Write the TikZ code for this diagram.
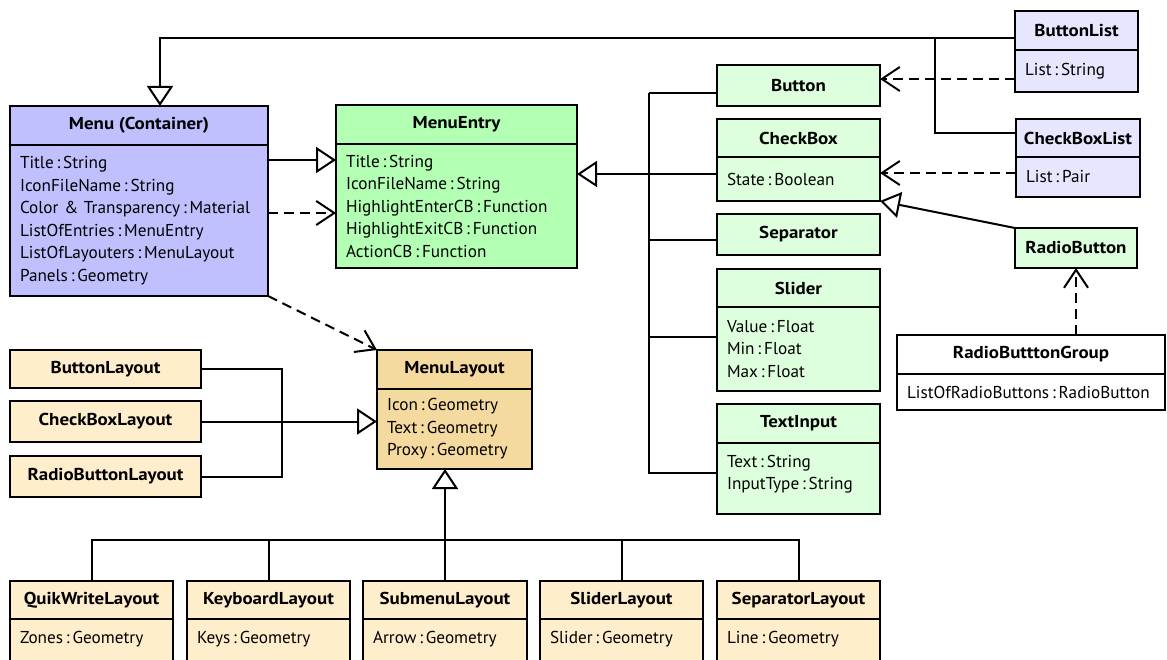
\documentclass[tikz,border=0pt]{standalone}
\usepackage{fontspec}
\setmainfont{PT Sans}[BoldFeatures={FakeStretch=1.1}]
\usetikzlibrary{arrows.meta}
\usetikzlibrary{positioning}

\definecolor{menublue}{RGB}{192,192,255}
\definecolor{listblue}{RGB}{230,230,255}
\definecolor{entrygreen}{RGB}{179,255,179}
\definecolor{widgetgreen}{RGB}{221,255,221}
\definecolor{layouttan}{RGB}{245,218,160}
\definecolor{layoutcream}{RGB}{255,238,204}

\newcommand{\umlfont}{\fontsize{17.2pt}{22.5pt}\selectfont}

\tikzset{
    classhead/.style={rectangle, draw=black, line width=2pt, outer sep=0pt, inner sep=0pt, anchor=north west, font=\umlfont\bfseries},
    classbody/.style={rectangle, draw=black, line width=2pt, outer sep=0pt, inner xsep=10pt, inner ysep=4pt, align=left, font=\umlfont},
    inherit/.style={line width=2pt, -{Triangle[open, length=20pt, width=26pt, fill=white]}},
    uses/.style={line width=2pt, dash pattern=on 10pt off 6pt, -{Straight Barb[length=18pt, width=24pt]}},
    link/.style={line width=2pt},
}

\begin{document}
\begin{tikzpicture}[x=1pt, y=-1pt]
    \fill[white] (0,0) rectangle (1167,660);
    \useasboundingbox (0,0) rectangle (1167,660);

    % menu and entries
    \node[classhead, fill=menublue, minimum width=258pt, minimum height=39pt] (menu) at (10,106) {Menu (Container)};
    \node[classbody, fill=menublue, text width=238pt, minimum height=151pt, below=0pt of menu] (menuattr) {Title\,:\,String\\IconFileName\,:\,String\\Color \& Transparency\,:\,Material\\ListOfEntries\,:\,MenuEntry\\ListOfLayouters\,:\,MenuLayout\\Panels\,:\,Geometry};
    \node[classhead, fill=entrygreen, minimum width=241pt, minimum height=39pt] (entry) at (336,105) {MenuEntry};
    \node[classbody, fill=entrygreen, text width=221pt, minimum height=124pt, below=0pt of entry] (entryattr) {Title\,:\,String\\IconFileName\,:\,String\\HighlightEnterCB\,:\,Function\\HighlightExitCB\,:\,Function\\ActionCB\,:\,Function};

    \node[classhead, fill=widgetgreen, minimum width=163pt, minimum height=41pt] (button) at (717,65) {Button};
    \node[classhead, fill=widgetgreen, minimum width=163pt, minimum height=38pt] (checkbox) at (717,119) {CheckBox};
    \node[classbody, fill=widgetgreen, text width=143pt, minimum height=44pt, below=0pt of checkbox] (checkboxattr) {State\,:\,Boolean};
    \node[classhead, fill=widgetgreen, minimum width=163pt, minimum height=41pt] (separator) at (717,214) {Separator};
    \node[classhead, fill=widgetgreen, minimum width=163pt, minimum height=38pt] (slider) at (717,269) {Slider};
    \node[classbody, fill=widgetgreen, text width=143pt, minimum height=84pt, below=0pt of slider] (sliderattr) {Value\,:\,Float\\Min\,:\,Float\\Max\,:\,Float};
    \node[classhead, fill=widgetgreen, minimum width=163pt, minimum height=39pt] (textinput) at (717,404) {TextInput};
    \node[classbody, fill=widgetgreen, text width=143pt, inner ysep=12pt, text depth=35pt, below=0pt of textinput] (textinputattr) {Text\,:\,String\\InputType\,:\,String};

    % lists and radio buttons
    \node[classhead, fill=listblue, minimum width=123pt, minimum height=39pt] (buttonlist) at (1015,11) {ButtonList};
    \node[classbody, fill=listblue, text width=103pt, minimum height=42pt, below=0pt of buttonlist] (buttonlistattr) {List\,:\,String};
    \node[classhead, fill=listblue, minimum width=124pt, minimum height=38pt] (checkboxlist) at (1016,119) {CheckBoxList};
    \node[classbody, fill=listblue, text width=104pt, minimum height=40pt, below=0pt of checkboxlist] (checkboxlistattr) {List\,:\,Pair};
    \node[classhead, fill=widgetgreen, minimum width=122pt, minimum height=40pt] (radiobutton) at (1015,228) {RadioButton};
    \node[classhead, fill=white, minimum width=268pt, minimum height=39pt] (radiogroup) at (897,335) {RadioButttonGroup};
    \node[classbody, fill=white, text width=248pt, minimum height=36pt, below=0pt of radiogroup] (radiogroupattr) {ListOfRadioButtons\,:\,RadioButton};

    % layouts
    \node[classhead, fill=layouttan, minimum width=155pt, minimum height=39pt] (menulayout) at (377,350) {MenuLayout};
    \node[classbody, fill=layouttan, text width=135pt, minimum height=80pt, below=0pt of menulayout] (menulayoutattr) {Icon\,:\,Geometry\\Text\,:\,Geometry\\Proxy\,:\,Geometry};
    \node[classhead, fill=layoutcream, minimum width=191pt, minimum height=38pt] (buttonlayout) at (10,350) {ButtonLayout};
    \node[classhead, fill=layoutcream, minimum width=191pt, minimum height=41pt] (checkboxlayout) at (10,401) {CheckBoxLayout};
    \node[classhead, fill=layoutcream, minimum width=191pt, minimum height=41pt] (radiobuttonlayout) at (10,456) {RadioButtonLayout};

    \node[classhead, fill=layoutcream, minimum width=163pt, minimum height=38pt] (quikwrite) at (10,581) {QuikWriteLayout};
    \node[classbody, fill=layoutcream, text width=143pt, inner ysep=12pt, text depth=40pt, below=0pt of quikwrite] (quikwriteattr) {Zones\,:\,Geometry};
    \node[classhead, fill=layoutcream, minimum width=163pt, minimum height=38pt] (keyboard) at (187,581) {KeyboardLayout};
    \node[classbody, fill=layoutcream, text width=143pt, inner ysep=12pt, text depth=40pt, below=0pt of keyboard] (keyboardattr) {Keys\,:\,Geometry};
    \node[classhead, fill=layoutcream, minimum width=164pt, minimum height=38pt] (submenu) at (363,581) {SubmenuLayout};
    \node[classbody, fill=layoutcream, text width=144pt, inner ysep=12pt, text depth=40pt, below=0pt of submenu] (submenuattr) {Arrow\,:\,Geometry};
    \node[classhead, fill=layoutcream, minimum width=163pt, minimum height=38pt] (sliderlayout) at (540,581) {SliderLayout};
    \node[classbody, fill=layoutcream, text width=143pt, inner ysep=12pt, text depth=40pt, below=0pt of sliderlayout] (sliderlayoutattr) {Slider\,:\,Geometry};
    \node[classhead, fill=layoutcream, minimum width=163pt, minimum height=38pt] (separatorlayout) at (717,581) {SeparatorLayout};
    \node[classbody, fill=layoutcream, text width=143pt, inner ysep=12pt, text depth=40pt, below=0pt of separatorlayout] (separatorlayoutattr) {Line\,:\,Geometry};

    % lists are menus
    \coordinate (listjoin) at (935,38);
    \draw[inherit] (buttonlist.west |- listjoin) -| ([xshift=21pt]menu.north);
    \draw[link] ([yshift=5pt]checkboxlist.west) -| (listjoin);

    % menu holds entries
    \coordinate (m1) at ([yshift=-15pt]menuattr.north east);
    \coordinate (m2) at ([yshift=-68pt]menuattr.north east);
    \draw[inherit] (m1) -- (m1 -| entryattr.west);
    \draw[uses] (m2) -- (m2 -| entryattr.west);

    % widgets are entries
    \coordinate (entrybus) at (649,93);
    \coordinate (cb) at ([yshift=5pt]checkboxattr.west);
    \draw[inherit] (cb) -- (cb -| entryattr.east);
    \draw[link] ([yshift=-7.5pt]button.west) -| (entrybus);
    \draw[link] ([yshift=-5.5pt]separator.west) -| (entrybus);
    \draw[link] ([yshift=12pt]sliderattr.west) -| (entrybus);
    \draw[link] ([yshift=6pt]textinputattr.west) -| (entrybus);

    \coordinate (bl) at ([yshift=-8pt]buttonlistattr.west);
    \coordinate (cbl) at ([yshift=4pt]checkboxlistattr.west);
    \draw[uses] (bl) -- (bl -| button.east);
    \draw[uses] (cbl) -- (cbl -| checkboxattr.east);
    \draw[inherit] (radiobutton.north west) -- (checkboxattr.south east);
    \draw[uses] (radiobutton.south |- radiogroup.north) -- (radiobutton.south);

    % layouts
    \draw[uses] (menuattr.south east) -- (menulayout.north west);
    \coordinate (layoutjoin) at (282,421);
    \draw[link] (buttonlayout.east) -| (layoutjoin) |- (radiobuttonlayout.east);
    \draw[inherit] (checkboxlayout.east) -- (checkboxlayout.east -| menulayoutattr.west);

    \coordinate (layoutbus) at (445,540);
    \draw[inherit] (submenu.north) -- (submenu.north |- menulayoutattr.south);
    \draw[link] (quikwrite.north) |- (layoutbus) -| (separatorlayout.north);
    \draw[link] (keyboard.north) |- (layoutbus);
    \draw[link] (sliderlayout.north) |- (layoutbus);
\end{tikzpicture}
\end{document}
